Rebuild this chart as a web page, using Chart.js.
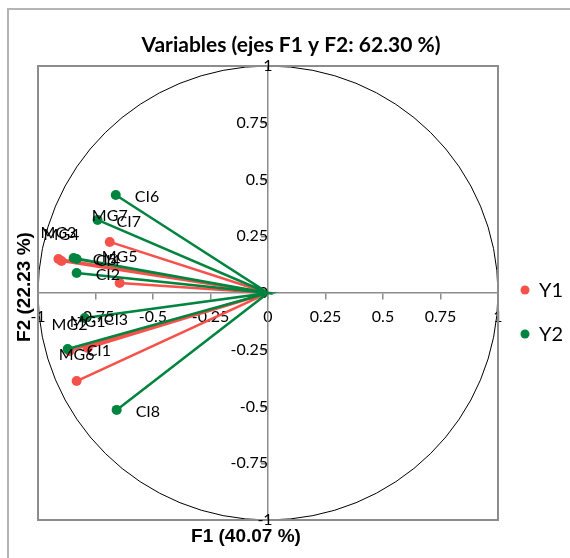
<!DOCTYPE html>
<html>
<head>
<meta charset="utf-8">
<script src="https://cdn.jsdelivr.net/npm/chart.js@4.4.1/dist/chart.umd.min.js"></script>
<style>
  html, body { margin: 0; padding: 0; background: #fff; }
  #wrap { position: relative; width: 570px; height: 558px; overflow: hidden; }
  #frame { position: absolute; left: 7px; top: 8px; width: 620px; height: 620px;
           border-left: 2px solid #b4b4b4; border-top: 2px solid #b4b4b4; pointer-events: none; }
</style>
</head>
<body>
<div id="wrap">
  <canvas id="chart" width="570" height="558"></canvas>
  <div id="frame"></div>
</div>
<script>
// correlation circle, F1 vs F2
const seriesNames = ['Y1', 'Y2'];

const y1Labels = ['MG1', 'MG2', 'MG3', 'MG4', 'MG5', 'MG6', 'MG7'];
const y1F1 = [-0.784, -0.863, -0.911, -0.898, -0.645, -0.832, -0.688];
const y1F2 = [-0.242, -0.255, 0.150, 0.141, 0.044, -0.388, 0.225];

const y2Labels = ['CI1', 'CI2', 'CI3', 'CI4', 'CI5', 'CI6', 'CI7', 'CI8'];
const y2F1 = [-0.871, -0.832, -0.797, -0.832, -0.845, -0.662, -0.741, -0.658];
const y2F2 = [-0.247, 0.088, -0.110, 0.150, 0.154, 0.432, 0.322, -0.515];

const axisTicks = [-1, -0.75, -0.5, -0.25, 0, 0.25, 0.5, 0.75, 1];

const red = '#f5524b';
const green = '#00843f';
const axisGray = '#8c8c8c';

// each variable is a spoke: origin -> point -> origin -> next point ...
function spokes(xs, ys) {
    const pts = [];
    xs.forEach((x, i) => {
        pts.push({ x: 0, y: 0 });
        pts.push({ x: x, y: ys[i] });
    });
    return pts;
}
function radii(n) {
    const r = [];
    for (let i = 0; i < n; i++) {
        r.push(0, 5);
    }
    return r;
}

const extras = {
    id: 'extras',
    beforeDatasetsDraw(chart) {
        const { ctx, scales: { x, y } } = chart;
        const cx = x.getPixelForValue(0);
        const cy = y.getPixelForValue(0);
        const rx = x.getPixelForValue(1) - cx;
        const ry = cy - y.getPixelForValue(1);
        ctx.save();
        ctx.beginPath();
        ctx.ellipse(cx, cy, rx, ry, 0, 0, 2 * Math.PI);
        ctx.strokeStyle = '#000';
        ctx.lineWidth = 1;
        ctx.stroke();
        ctx.restore();
    },
    afterDraw(chart) {
        const { ctx, chartArea: a, scales: { x, y } } = chart;
        ctx.save();
        // plot box
        ctx.strokeStyle = axisGray;
        ctx.lineWidth = 2;
        ctx.strokeRect(a.left, a.top, a.right - a.left, a.bottom - a.top);

        // y end labels sit on the axis
        ctx.fillStyle = '#000';
        ctx.font = '16px Lato';
        ctx.textAlign = 'center';
        ctx.textBaseline = 'middle';
        const ax = x.getPixelForValue(0);
        ctx.fillText('1', ax, y.getPixelForValue(1));
        ctx.fillText('-1', ax - 3, y.getPixelForValue(-1));

        // point labels
        ctx.font = '16px Lato';
        const labelSets = [y1Labels, y2Labels];
        chart.data.datasets.forEach((ds, di) => {
            const meta = chart.getDatasetMeta(di);
            meta.data.forEach((el, i) => {
                if (i % 2 === 0) return;
                const txt = labelSets[di][(i - 1) / 2];
                if (di === 0) {
                    ctx.textAlign = 'center';
                    ctx.fillText(txt, el.x, el.y - 26);
                } else {
                    ctx.textAlign = 'left';
                    ctx.fillText(txt, el.x + 19, el.y + 2);
                }
            });
        });

        // title
        ctx.font = 'bold 21px Lato';
        ctx.textAlign = 'center';
        ctx.fillText('Variables (ejes F1 y F2: 62.30 %)', 291, 45);

        // axis titles
        ctx.font = 'bold 19px "Liberation Sans"';
        ctx.fillText('F1 (40.07 %)', 246, 537);
        ctx.save();
        ctx.translate(25, 287);
        ctx.rotate(-Math.PI / 2);
        ctx.fillText('F2 (22.23 %)', 0, 0);
        ctx.restore();

        // legend
        ctx.font = '20px Lato';
        ctx.textAlign = 'left';
        chart.data.datasets.forEach((ds, di) => {
            const ly = 290 + di * 44;
            ctx.beginPath();
            ctx.arc(525, ly, 4.5, 0, 2 * Math.PI);
            ctx.fillStyle = ds.borderColor;
            ctx.fill();
            ctx.fillStyle = '#000';
            ctx.fillText(ds.label, 539, ly + 1);
        });
        ctx.restore();
    }
};

const axisCommon = {
    type: 'linear',
    min: -1,
    max: 1,
    afterBuildTicks: (scale) => {
        scale.ticks = axisTicks.map(v => ({ value: v }));
    },
    border: { color: axisGray, width: 1.5 },
    grid: { drawOnChartArea: false, drawTicks: true, tickLength: 6, color: axisGray, lineWidth: 1.5 }
};

new Chart(document.getElementById('chart'), {
    type: 'scatter',
    data: {
        datasets: [
            {
                label: seriesNames[0],
                data: spokes(y1F1, y1F2),
                showLine: true,
                borderColor: red,
                backgroundColor: red,
                borderWidth: 2.5,
                pointRadius: radii(y1F1.length),
                pointBorderWidth: 0,
                order: 1
            },
            {
                label: seriesNames[1],
                data: spokes(y2F1, y2F2),
                showLine: true,
                borderColor: green,
                backgroundColor: green,
                borderWidth: 2.5,
                pointRadius: radii(y2F1.length),
                pointBorderWidth: 0,
                order: 0
            }
        ]
    },
    options: {
        responsive: false,
        animation: false,
        layout: { padding: { left: 38, top: 66, right: 72, bottom: 38 } },
        plugins: {
            legend: { display: false },
            tooltip: { enabled: false }
        },
        scales: {
            x: Object.assign({}, axisCommon, {
                position: { y: 0 },
                ticks: {
                    color: '#000', font: { family: 'Lato', size: 16 }, padding: 8, maxRotation: 0,
                    callback: (v) => String(v)
                }
            }),
            y: Object.assign({}, axisCommon, {
                position: { x: 0 },
                ticks: {
                    color: '#000', font: { family: 'Lato', size: 16 }, padding: 12,
                    callback: (v) => Math.abs(v) === 1 ? '' : String(v)
                }
            })
        }
    },
    plugins: [extras]
});
</script>
</body>
</html>
